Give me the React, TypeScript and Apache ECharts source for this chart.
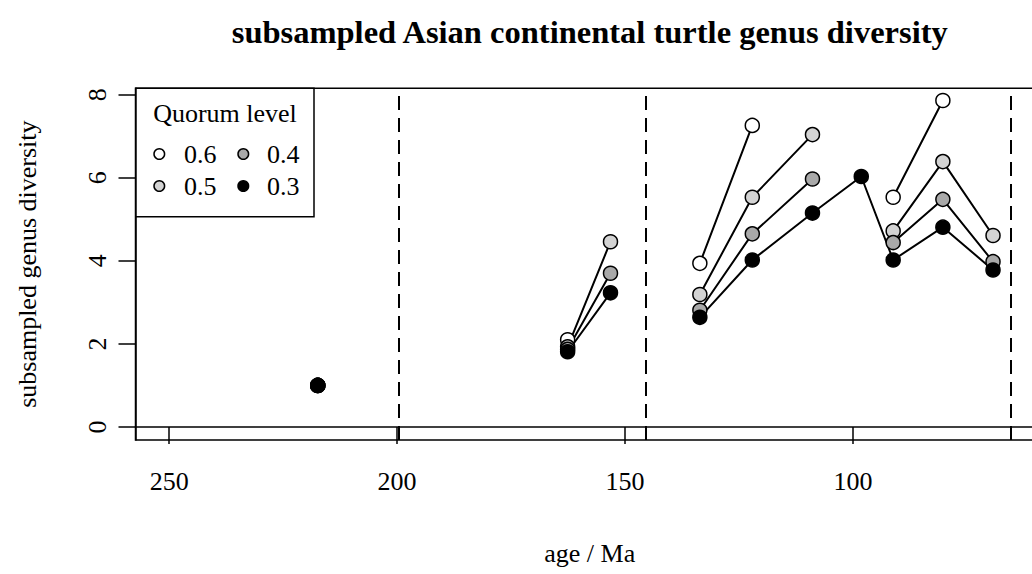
import React, { useEffect, useRef } from "react";
import * as echarts from "echarts";

// time bins (Ma); bins without any subsampled value keep the lines broken as in the reference
const ages = [217.4, 190.0, 175.0, 162.6, 153.2, 143.0, 133.6, 122.1, 108.9, 98.2, 91.2, 80.3, 69.3];
const q06 = [1, null, null, 2.1, null, null, 3.94, 7.26, null, null, 5.53, 7.86, null];
const q05 = [1, null, null, 1.93, 4.46, null, 3.19, 5.53, 7.04, null, 4.72, 6.39, 4.61];
const q04 = [1, null, null, 1.87, 3.7, null, 2.81, 4.65, 5.97, null, 4.44, 5.48, 3.98];
const q03 = [1, null, null, 1.81, 3.23, null, 2.64, 4.02, 5.15, 6.03, 4.02, 4.81, 3.78];
const quorumNames = ["0.6", "0.5", "0.4", "0.3"];
const quorumColors = ["#FFFFFF", "#D3D3D3", "#A9A9A9", "#000000"];
const boundaries = [199.6, 145.5, 65.5];
const xTicks = [100, 150, 200, 250];
const yTicks = [0, 2, 4, 6, 8];

const FONT = "'Liberation Serif', 'DejaVu Serif', serif";

export default function App() {
  const ref = useRef<HTMLDivElement>(null);
  useEffect(() => {
    if (!ref.current) return;
    const chart = echarts.init(ref.current, null, { renderer: "svg" });
    const all = [q06, q05, q04, q03];
    const series: any[] = all.map((vals, i) => ({
      name: quorumNames[i],
      type: "line",
      data: ages.map((a, j) => [a, vals[j] === null ? "-" : vals[j]]),
      connectNulls: false,
      symbol: "circle",
      symbolSize: 14,
      showAllSymbol: true,
      lineStyle: { color: "#000", width: 2 },
      itemStyle: { color: quorumColors[i], borderColor: "#000", borderWidth: 1.5 },
      emphasis: { disabled: true },
      silent: true,
      z: 3,
    }));
    series.push({
      type: "line",
      data: [],
      silent: true,
      markLine: {
        silent: true,
        symbol: "none",
        label: { show: false },
        lineStyle: { color: "#000", width: 2, type: [14, 8] },
        data: boundaries.map((b) => ({ xAxis: b })),
      },
    });

    // legend graphic
    const lx = 136, ly = 88.3, lw = 178, lh = 128.4;
    const legendItems: any[] = [
      { type: "rect", shape: { x: lx, y: ly, width: lw, height: lh }, style: { fill: "#fff", stroke: "#000", lineWidth: 1.5 }, z: 10 },
      { type: "text", x: lx + lw / 2, y: 113.3, style: { text: "Quorum level", font: `26px ${FONT}`, fill: "#000", align: "center", verticalAlign: "middle" }, z: 11 },
    ];
    const pos = [
      [159.3, 154, 184],
      [159.3, 186, 184],
      [243.3, 154, 267],
      [243.3, 186, 267],
    ];
    quorumNames.forEach((n, i) => {
      const [cx, cy, tx] = pos[i];
      legendItems.push({ type: "circle", shape: { cx, cy, r: 5.3 }, style: { fill: quorumColors[i], stroke: "#000", lineWidth: 1.5 }, z: 11 });
      legendItems.push({ type: "text", x: tx, y: cy, style: { text: n, font: `26px ${FONT}`, fill: "#000", align: "left", verticalAlign: "middle" }, z: 11 });
    });

    chart.setOption({
      animation: false,
      title: {
        text: "subsampled Asian continental turtle genus diversity",
        left: 589.75,
        top: 15,
        textAlign: "center",
        padding: 0,
        textStyle: { fontFamily: FONT, fontSize: 32.5, fontWeight: "bold", color: "#000" },
      },
      grid: {
        left: 135.5,
        top: 88.3,
        width: 908.5,
        height: 351.7,
        outerBoundsMode: "none",
        containLabel: false,
        show: true,
        borderColor: "#000",
        borderWidth: 1.5,
        backgroundColor: "transparent",
      },
      xAxis: {
        type: "value",
        inverse: true,
        min: 58.12,
        max: 257.38,
        name: "age / Ma",
        nameLocation: "middle",
        nameGap: 100,
        nameTextStyle: { fontFamily: FONT, fontSize: 26, color: "#000" },
        axisLine: { show: true, lineStyle: { color: "#000", width: 1.5 } },
        axisTick: { show: true, inside: false, length: 17, lineStyle: { color: "#000", width: 1.5 }, customValues: xTicks },
        axisLabel: { show: true, margin: 28, fontFamily: FONT, fontSize: 26, color: "#000", customValues: xTicks },
        splitLine: { show: false },
      },
      yAxis: {
        type: "value",
        min: -0.314,
        max: 8.154,
        name: "subsampled genus diversity",
        nameLocation: "middle",
        nameGap: 95,
        nameTextStyle: { fontFamily: FONT, fontSize: 26, color: "#000" },
        axisLine: { show: true, lineStyle: { color: "#000", width: 1.5 } },
        axisTick: { show: true, inside: false, length: 17, lineStyle: { color: "#000", width: 1.5 }, customValues: yTicks },
        axisLabel: { show: true, rotate: 90, margin: 25, fontFamily: FONT, fontSize: 26, color: "#000", customValues: yTicks },
        splitLine: { show: false },
      },
      graphic: legendItems,
      series,
    });
    return () => chart.dispose();
  }, []);
  return <div ref={ref} style={{ position: "absolute", left: 0, top: 0, width: 1032, height: 574 }} />;
}
